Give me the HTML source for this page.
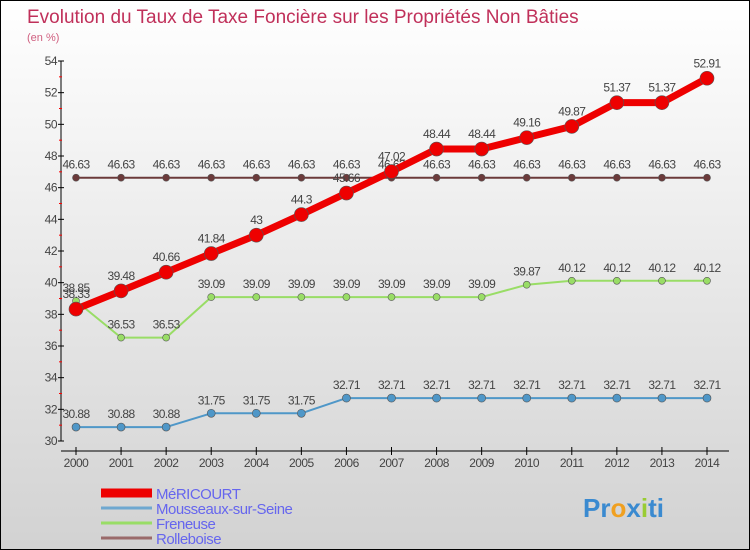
<!DOCTYPE html>
<html><head><meta charset="utf-8"><style>
body{margin:0}
#c{width:748px;height:548px;border:1px solid #000;background:linear-gradient(#fff,#d2d2d2);position:relative;font-family:"Liberation Sans",sans-serif;overflow:hidden}
svg text{font-family:"Liberation Sans",sans-serif}
</style></head><body>
<div id="c">
<svg id="s" width="748" height="548">
<text x="26" y="22" font-size="19" fill="#c0305a">Evolution du Taux de Taxe Foncière sur les Propriétés Non Bâties</text>
<text x="26" y="40" font-size="11" fill="#d06080">(en %)</text>
</svg>
</div>
<script>
const years=[2000,2001,2002,2003,2004,2005,2006,2007,2008,2009,2010,2011,2012,2013,2014];
const yTicks=[30,32,34,36,38,40,42,44,46,48,50,52,54];
const mericourt=[38.33,39.48,40.66,41.84,43,44.3,45.66,47.02,48.44,48.44,49.16,49.87,51.37,51.37,52.91];
const mericourtLabels=["38.33","39.48","40.66","41.84","43","44.3","45.66","47.02","48.44","48.44","49.16","49.87","51.37","51.37","52.91"];
const mousseaux=[30.88,30.88,30.88,31.75,31.75,31.75,32.71,32.71,32.71,32.71,32.71,32.71,32.71,32.71,32.71];
const freneuse=[38.85,36.53,36.53,39.09,39.09,39.09,39.09,39.09,39.09,39.09,39.87,40.12,40.12,40.12,40.12];
const rolleboise=[46.63,46.63,46.63,46.63,46.63,46.63,46.63,46.63,46.63,46.63,46.63,46.63,46.63,46.63,46.63];
const seriesNames=["MéRICOURT","Mousseaux-sur-Seine","Freneuse","Rolleboise"];
const s=document.getElementById('s');const NS='http://www.w3.org/2000/svg';
function X(i){return 75+i*(706-75)/(years.length-1);}
function Y(v){return 440-(v-30)*(440-60)/24;}
function el(t,a,txt){const e=document.createElementNS(NS,t);for(const k in a)e.setAttribute(k,a[k]);if(txt!==undefined)e.textContent=txt;s.appendChild(e);return e;}
let a=el('line',{x1:60,y1:60,x2:60,y2:440,stroke:'#000'});


a=el('line',{x1:60,y1:450,x2:728,y2:450,stroke:'#000'});


yTicks.forEach(v=>{
 el('line',{x1:57,y1:Y(v),x2:63,y2:Y(v),stroke:'#000'});
 if(v<54)el('line',{x1:58,y1:Y(v+1),x2:61,y2:Y(v+1),stroke:'#f00'});
 const t=el('text',{x:56,y:Y(v)+4,'font-size':12,fill:'#444','text-anchor':'end','letter-spacing':'-0.5'},String(v));
 
 
});
years.forEach((yr,i)=>{
 el('line',{x1:X(i),y1:446,x2:X(i),y2:454,stroke:'#000'});
 const t=el('text',{x:X(i),y:466,'font-size':12,fill:'#444','text-anchor':'middle','letter-spacing':'-0.5'},String(yr));
 
 
});
function series(data,color,w,r,name,labels,dy){
 const p=el('polyline',{points:data.map((v,i)=>X(i)+','+Y(v)).join(' '),fill:'none',stroke:color,'stroke-width':w,'stroke-linejoin':'round'});
 
 
 data.forEach((v,i)=>{
  const c=el('circle',{cx:X(i),cy:Y(v),r:r,fill:color,stroke:'#555','stroke-width':0.6});
  
  
  const t=el('text',{x:X(i),y:Y(v)-dy,'font-size':12,fill:'#444','text-anchor':'middle','letter-spacing':'-0.6'},labels?labels[i]:String(v));
  
  
 });
}
series(rolleboise,'#6b3a3a',2,3.5,'rolleboise',null,9);
series(mousseaux,'#4f97c8',2,4,'mousseaux',null,9);
series(freneuse,'#99dd66',2,3.5,'freneuse',null,9);
series(mericourt,'#ee0000',7,7,'mericourt',mericourtLabels,11);
const lc=['#ee0000','#6fa8d0','#99dd66','#9a6a6a'],lw=[9,3,3,3];
seriesNames.forEach((n,i)=>{
 const y=492+i*15;
 const l=el('line',{x1:100,y1:y,x2:151,y2:y,stroke:lc[i],'stroke-width':lw[i]});
 
 
 const t=el('text',{x:155,y:y+6,'font-size':15,fill:'#6666ee','letter-spacing':'-0.5'},n);
 
 
});
const lg=el('text',{x:582,y:516,'font-size':26,'font-weight':'bold',fill:'#3a8ad0'},'');


[['Pr','#3a8ad0'],['o','#f0a020'],['x','#3a8ad0'],['i','#99cc33'],['ti','#3a8ad0']].forEach(p=>{const ts=document.createElementNS(NS,'tspan');ts.setAttribute('fill',p[1]);ts.textContent=p[0];lg.appendChild(ts);});
</script>
</body></html>
